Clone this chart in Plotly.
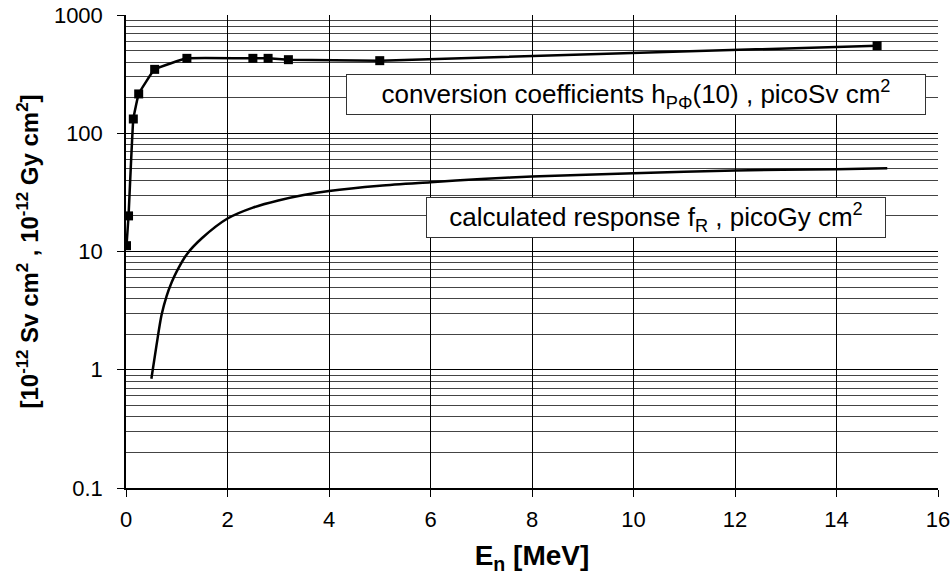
import plotly.graph_objects as go

# Neutron fluence-to-dose conversion coefficients h_pPhi(10) (picoSv cm^2)
conv_energy = [0.01, 0.05, 0.144, 0.25, 0.565, 1.2, 2.5, 2.8, 3.2, 5.0, 14.8]
conv_value = [11.2, 20.0, 132.0, 215.0, 347.0, 430.0, 430.0, 430.0, 419.0, 411.0, 550.0]

# Calculated detector response f_R (picoGy cm^2)
resp_energy = [0.5, 0.6, 0.7, 0.8, 0.9, 1.0, 1.2, 1.5, 2.0, 2.5, 3.0, 3.5, 4.0,
               5.0, 6.0, 7.0, 8.0, 10.0, 12.0, 14.0, 15.0]
resp_value = [0.84, 1.6, 2.9, 4.2, 5.5, 6.8, 9.5, 13.0, 19.0, 23.5, 27.0, 30.0, 32.5,
              36.0, 38.5, 41.0, 43.0, 46.0, 48.5, 49.5, 50.5]

x_ticks = [0, 2, 4, 6, 8, 10, 12, 14, 16]
y_ticks = [0.1, 1, 10, 100, 1000]
y_ticktext = ["0.1", "1", "10", "100", "1000"]

FONT = "Liberation Sans, Arial, sans-serif"

minor_vals = [m * 10 ** d for d in range(-1, 3) for m in range(2, 10)]

fig = go.Figure()

fig.add_trace(go.Scatter(
    x=resp_energy, y=resp_value, mode="lines",
    line=dict(color="black", width=2.5, shape="spline", smoothing=0.8),
    showlegend=False,
))

fig.add_trace(go.Scatter(
    x=conv_energy, y=conv_value, mode="lines+markers",
    line=dict(color="black", width=2.5, shape="spline", smoothing=0.25),
    marker=dict(symbol="square", size=9, color="black"),
    showlegend=False,
))

fig.update_xaxes(
    range=[0, 16], tickvals=x_ticks, ticks="outside", ticklen=7, tickcolor="black",
    showgrid=True, gridcolor="black", gridwidth=1,
    showline=True, linecolor="black", linewidth=2,
    zeroline=False,
    tickfont=dict(family=FONT, size=22, color="black"),
    ticklabelstandoff=4, ticklabeloverflow="allow",
    title=dict(text="<b>E<sub>n</sub> [MeV]</b>", font=dict(family=FONT, size=28, color="black"),
               standoff=14),
)

fig.update_yaxes(
    type="log", range=[-1, 3], tickvals=y_ticks, ticktext=y_ticktext,
    ticks="outside", ticklen=7, tickcolor="black",
    showgrid=True, gridcolor="black", gridwidth=1,
    minor=dict(tickvals=minor_vals, showgrid=True, gridcolor="#444444", gridwidth=1, ticklen=0),
    showline=True, linecolor="black", linewidth=1.5,
    zeroline=False,
    tickfont=dict(family=FONT, size=22, color="black"),
    ticklabelstandoff=10, ticklabeloverflow="allow",
    title=dict(text="<b>[10<sup>-12</sup> Sv cm<sup>2</sup> , 10<sup>-12</sup> Gy cm<sup>2</sup>]</b>",
               font=dict(family=FONT, size=24, color="black"), standoff=8),
)

fig.add_annotation(
    xref="paper", yref="paper", x=0.6285, y=0.832, xanchor="center", yanchor="middle",
    text="conversion coefficients h<sub>PΦ</sub>(10) , picoSv cm<sup>2</sup>",
    showarrow=False, font=dict(family=FONT, size=26, color="black"),
    bgcolor="white", bordercolor="#333333", borderwidth=1, borderpad=0,
    width=578, height=39, align="center",
)

fig.add_annotation(
    xref="paper", yref="paper", x=0.653, y=0.572, xanchor="center", yanchor="middle",
    text="calculated response f<sub>R</sub> , picoGy cm<sup>2</sup>",
    showarrow=False, font=dict(family=FONT, size=26, color="black"),
    bgcolor="white", bordercolor="#333333", borderwidth=1, borderpad=0,
    width=458, height=39, align="center",
)

fig.update_layout(
    width=950, height=577,
    margin=dict(l=126, r=12, t=15, b=89, autoexpand=False),
    paper_bgcolor="white", plot_bgcolor="white",
    font=dict(family=FONT, color="black"),
)

fig.write_html("out.html")
